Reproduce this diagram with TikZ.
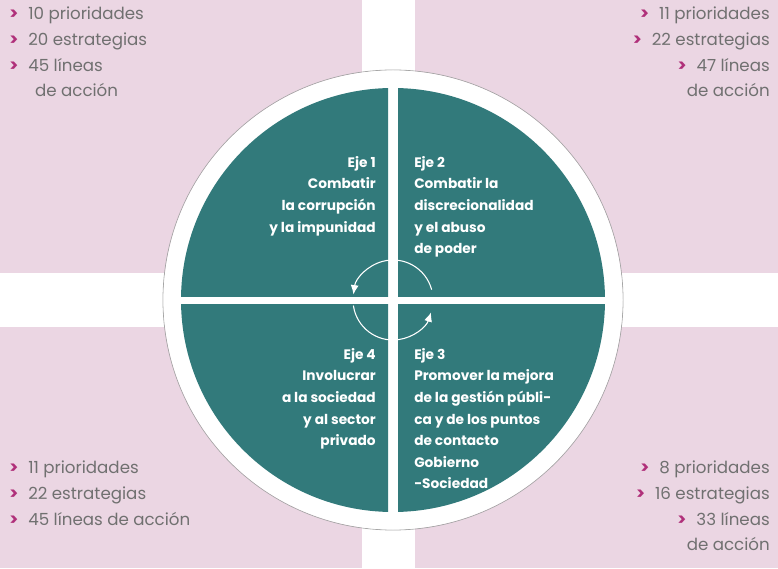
\documentclass[tikz,border=0pt]{standalone}
\usepackage{fontspec}
\setmainfont{Poppins}
\usetikzlibrary{arrows.meta}
\definecolor{rosa}{HTML}{EBD6E3}
\definecolor{verde}{HTML}{327A7B}
\definecolor{gris}{HTML}{707070}
\definecolor{flecha}{HTML}{B0307A}
\newcommand{\pt}{{\color{flecha}\bfseries >}\hspace{0.6em}}
\tikzset{
  lista/.style={text=gris,font=\fontsize{12.5}{19.2}\selectfont,inner sep=0pt},
  eje/.style={text=white,font=\bfseries\fontsize{10.3}{16.2}\selectfont,inner sep=0pt},
}
\begin{document}
\begin{tikzpicture}[x=0.75pt,y=0.75pt]
\useasboundingbox (0,0) rectangle (778,568);
% fondo
\fill[rosa] (0,295) rectangle (362,568);
\fill[rosa] (415,295) rectangle (778,568);
\fill[rosa] (0,0) rectangle (362,241);
\fill[rosa] (415,0) rectangle (778,241);
\coordinate (c) at (393,268);
\draw[gray!70,line width=0.6pt] (c) circle (230);
\fill[white] (c) circle (229.5);
% cuadrantes
\foreach \xa/\xb/\ya/\yb in {0/388/271/568, 398/778/271/568, 0/388/0/263, 398/778/0/263}{
  \begin{scope}
    \clip (\xa,\ya) rectangle (\xb,\yb);
    \fill[verde] (c) circle (212);
  \end{scope}
}
% flechas centrales
\draw[white,line width=0.8pt,-{Latex[length=7pt,width=6pt]}] ([shift={(15:40)}]c) arc (15:172:40);
\draw[white,line width=0.8pt,-{Latex[length=7pt,width=6pt]}] ([shift={(188:40)}]c) arc (188:342:40);
% ejes
\node[eje,anchor=north east,align=right] (eje1) at (376,412) {Eje 1\\Combatir\\la corrupción\\y la impunidad};
\node[eje,anchor=north west,align=left] (eje2) at (414,412) {Eje 2\\Combatir la\\discrecionalidad\\y el abuso\\de poder};
\node[eje,anchor=north east,align=right] (eje4) at (376,220) {Eje 4\\Involucrar\\a la sociedad\\y al sector\\privado};
\node[eje,anchor=north west,align=left] (eje3) at (414,220) {Eje 3\\Promover la mejora\\de la gestión públi-\\ca y de los puntos\\de contacto\\Gobierno\\-Sociedad};
% listas
\node[lista,anchor=north west,align=left] (l1) at (9,561) {\pt 10 prioridades\\\pt 20 estrategias\\\pt 45 líneas\\\hspace{1.55em}de acción};
\node[lista,anchor=north east,align=right] (l2) at (770,561) {\pt 11 prioridades\\\pt 22 estrategias\\\pt 47 líneas\\de acción};
\node[lista,anchor=north west,align=left] (l4) at (9,107) {\pt 11 prioridades\\\pt 22 estrategias\\\pt 45 líneas de acción};
\node[lista,anchor=north east,align=right] (l3) at (770,107) {\pt 8 prioridades\\\pt 16 estrategias\\\pt 33 líneas\\de acción};
\end{tikzpicture}
\end{document}
